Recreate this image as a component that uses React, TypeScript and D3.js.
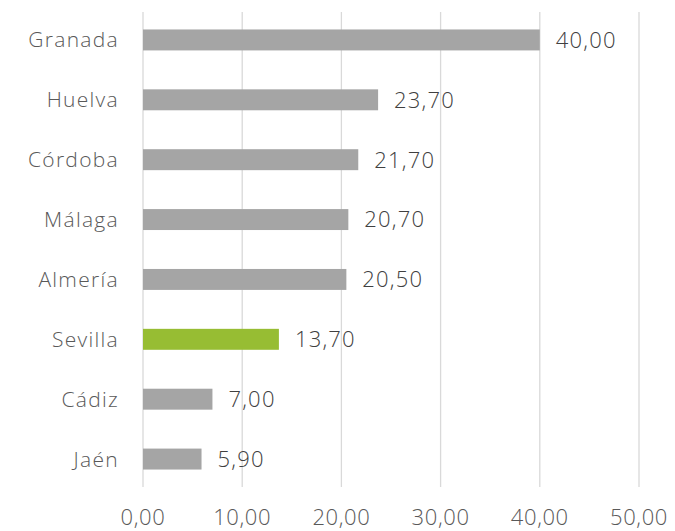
import React from "react";
import * as d3 from "d3";

const categories = ["Granada", "Huelva", "Córdoba", "Málaga", "Almería", "Sevilla", "Cádiz", "Jaén"];
const values = [40.0, 23.7, 21.7, 20.7, 20.5, 13.7, 7.0, 5.9];
const highlight = "Sevilla";
const ticks = [0, 10, 20, 30, 40, 50];

const W = 675;
const H = 531;

export default function App() {
  const x = d3.scaleLinear().domain([0, 50]).range([143, 639]);
  const y = d3.scaleBand<string>().domain(categories).range([10, 489]).paddingInner(0.65).paddingOuter(0.325);
  const fmt = (v: number) => v.toFixed(2).replace(".", ",");
  const font = "'Open Sans', sans-serif";
  return (
    <svg width={W} height={H} style={{ position: "absolute", left: 0, top: 0, background: "#fff" }}>
      {ticks.map((t) => (
        <line key={"g" + t} x1={x(t)} x2={x(t)} y1={12} y2={487} stroke="#d9d9d9" strokeWidth={1.3} />
      ))}
      {categories.map((c, i) => {
        const y0 = y(c)!;
        const cy = y0 + y.bandwidth() / 2;
        return (
          <g key={c}>
            <rect x={x(0)} y={y0} width={x(values[i]) - x(0)} height={y.bandwidth()} fill={c === highlight ? "#97bd33" : "#a5a5a5"} />
            <text x={119} y={cy} dy="0.36em" textAnchor="end" fontFamily={font} fontWeight={300} fontSize={21} letterSpacing={1.3} fill="#595959">{c}</text>
            <text x={x(values[i]) + 16} y={cy} dy="0.36em" textAnchor="start" fontFamily={font} fontWeight={300} fontSize={22} letterSpacing={1.2} fill="#404040">{fmt(values[i])}</text>
          </g>
        );
      })}
      {ticks.map((t) => (
        <text key={"t" + t} x={x(t)} y={525} textAnchor="middle" fontFamily={font} fontWeight={300} fontSize={22} letterSpacing={0.6} fill="#595959">{fmt(t)}</text>
      ))}
    </svg>
  );
}
